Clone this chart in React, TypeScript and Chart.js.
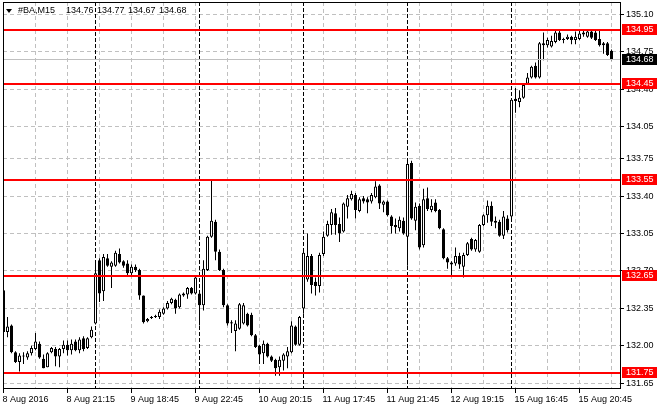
import React, { useEffect, useRef } from 'react';
import { Chart, registerables } from 'chart.js';

Chart.register(...registerables);

// ---- DATA (M15 bars of #BA) ----
const opens = [
  132.52, 132.13, 132.19, 131.94, 131.85, 131.90, 131.89, 131.93, 131.97, 132.02,
  131.88, 131.80, 131.94, 131.97, 131.90, 131.97, 132.01, 131.96, 132.04, 131.96,
  132.07, 131.98, 132.08, 132.21, 132.80, 132.51, 132.82, 132.74, 132.75, 132.86,
  132.79, 132.77, 132.68, 132.74, 132.71, 132.47, 132.23, 132.27, 132.28, 132.27,
  132.30, 132.35, 132.40, 132.43, 132.36, 132.47, 132.48, 132.54, 132.49, 132.49,
  132.38, 132.71, 133.02, 133.16, 132.88, 132.71, 132.38, 132.21, 132.14, 132.16,
  132.21, 132.30, 132.29, 132.10, 132.00, 131.93, 132.02, 131.90, 131.87, 131.80,
  131.86, 131.90, 131.94, 132.18, 132.01, 132.35, 132.62, 132.84, 132.60, 132.56,
  132.86, 133.03, 133.13, 133.24, 133.14, 133.07, 133.30, 133.37, 133.41, 133.26,
  133.38, 133.37, 133.35, 133.39, 133.50, 133.32, 133.35, 133.21, 133.13, 133.10,
  133.17, 133.02, 133.71, 133.17, 133.31, 132.94, 133.38, 133.27, 133.34, 133.27,
  133.09, 132.82, 132.78, 132.77, 132.84, 132.74, 132.85, 133.00, 132.90, 132.88,
  133.13, 133.22, 133.31, 133.17, 133.16, 133.03, 133.19, 133.21, 134.31, 134.28,
  134.32, 134.45, 134.51, 134.62, 134.51, 134.83, 134.81, 134.80, 134.84, 134.93,
  134.87, 134.87, 134.89, 134.86, 134.87, 134.93, 134.89, 134.94, 134.93, 134.87,
  134.81, 134.83, 134.76,
];
const highs = [
  132.55, 132.27, 132.20, 131.95, 131.93, 131.94, 131.95, 132.00, 132.12, 132.04,
  131.92, 131.94, 131.99, 131.99, 131.98, 132.05, 132.05, 132.06, 132.06, 132.08,
  132.09, 132.08, 132.18, 132.80, 132.82, 132.86, 132.86, 132.79, 132.89, 132.91,
  132.80, 132.80, 132.76, 132.76, 132.72, 132.47, 132.26, 132.28, 132.29, 132.34,
  132.36, 132.42, 132.45, 132.44, 132.49, 132.50, 132.55, 132.55, 132.66, 132.50,
  132.80, 133.03, 133.55, 133.18, 132.90, 132.72, 132.39, 132.24, 132.24, 132.40,
  132.40, 132.31, 132.31, 132.11, 132.01, 132.05, 132.03, 131.91, 131.88, 131.90,
  131.93, 131.99, 132.23, 132.19, 132.28, 132.89, 133.05, 132.86, 132.64, 132.87,
  133.07, 133.17, 133.28, 133.29, 133.20, 133.34, 133.41, 133.45, 133.43, 133.39,
  133.40, 133.39, 133.43, 133.54, 133.51, 133.36, 133.36, 133.22, 133.19, 133.21,
  133.20, 133.72, 133.73, 133.34, 133.33, 133.47, 133.48, 133.37, 133.37, 133.28,
  133.10, 132.83, 132.79, 132.92, 132.87, 132.87, 132.97, 133.01, 133.00, 133.14,
  133.23, 133.36, 133.35, 133.21, 133.18, 133.26, 133.22, 134.31, 134.41, 134.39,
  134.45, 134.55, 134.62, 134.65, 134.84, 134.93, 134.88, 134.90, 134.95, 134.95,
  134.88, 134.91, 134.90, 134.94, 134.95, 134.95, 134.95, 134.96, 134.95, 134.95,
  134.84, 134.84, 134.77,
];
const lows = [
  132.10, 132.08, 131.93, 131.84, 131.76, 131.83, 131.87, 131.91, 131.96, 131.88,
  131.79, 131.80, 131.93, 131.81, 131.80, 131.93, 131.91, 131.92, 131.95, 131.93,
  131.95, 131.97, 132.07, 132.20, 132.41, 132.42, 132.74, 132.54, 132.74, 132.77,
  132.73, 132.66, 132.66, 132.69, 132.43, 132.21, 132.22, 132.25, 132.26, 132.25,
  132.29, 132.34, 132.39, 132.30, 132.35, 132.46, 132.44, 132.48, 132.48, 132.19,
  132.33, 132.70, 133.01, 132.80, 132.70, 132.36, 132.19, 132.12, 131.95, 132.15,
  132.20, 132.18, 132.09, 131.98, 131.83, 131.83, 131.89, 131.85, 131.72, 131.72,
  131.77, 131.79, 131.93, 132.00, 132.00, 132.30, 132.60, 132.49, 132.47, 132.50,
  132.84, 133.02, 133.04, 133.04, 132.97, 133.06, 133.19, 133.36, 133.19, 133.25,
  133.33, 133.24, 133.33, 133.38, 133.28, 133.25, 133.21, 133.05, 133.05, 133.07,
  133.04, 132.75, 133.18, 133.08, 132.90, 132.92, 133.26, 133.25, 133.25, 133.09,
  132.81, 132.72, 132.66, 132.75, 132.72, 132.64, 132.84, 132.89, 132.88, 132.87,
  133.12, 133.15, 133.12, 133.10, 133.02, 133.00, 133.06, 133.19, 134.18, 134.23,
  134.31, 134.44, 134.50, 134.50, 134.50, 134.67, 134.79, 134.79, 134.83, 134.85,
  134.83, 134.86, 134.82, 134.82, 134.86, 134.89, 134.88, 134.87, 134.85, 134.80,
  134.73, 134.71, 134.67,
];
const closes = [
  132.13, 132.18, 131.94, 131.85, 131.91, 131.91, 131.93, 131.98, 132.04, 131.89,
  131.79, 131.93, 131.98, 131.90, 131.97, 132.01, 131.96, 132.02, 131.96, 132.06,
  131.97, 132.07, 132.15, 132.68, 132.49, 132.83, 132.75, 132.78, 132.87, 132.78,
  132.75, 132.68, 132.74, 132.71, 132.47, 132.22, 132.25, 132.26, 132.27, 132.32,
  132.35, 132.40, 132.44, 132.35, 132.48, 132.49, 132.54, 132.49, 132.64, 132.38,
  132.72, 133.02, 133.17, 132.88, 132.71, 132.38, 132.21, 132.22, 132.21, 132.39,
  132.38, 132.19, 132.10, 131.99, 131.92, 132.02, 131.90, 131.86, 131.79, 131.87,
  131.92, 131.95, 132.19, 132.01, 132.27, 132.87, 132.84, 132.57, 132.56, 132.85,
  133.02, 133.14, 133.25, 133.13, 133.05, 133.33, 133.38, 133.42, 133.27, 133.37,
  133.35, 133.34, 133.41, 133.49, 133.33, 133.35, 133.22, 133.12, 133.11, 133.18,
  133.05, 133.70, 133.19, 133.30, 132.92, 133.37, 133.28, 133.31, 133.26, 133.10,
  132.82, 132.78, 132.76, 132.84, 132.76, 132.85, 132.96, 132.90, 132.99, 133.13,
  133.22, 133.31, 133.16, 133.15, 133.03, 133.21, 133.08, 134.30, 134.29, 134.32,
  134.44, 134.51, 134.61, 134.51, 134.83, 134.81, 134.86, 134.85, 134.93, 134.86,
  134.86, 134.89, 134.86, 134.89, 134.92, 134.91, 134.94, 134.88, 134.86, 134.81,
  134.83, 134.72, 134.68,
];

const xTickLabels = [
  '8 Aug 2016', '8 Aug 21:15', '9 Aug 18:45', '9 Aug 22:45', '10 Aug 20:15',
  '11 Aug 17:45', '11 Aug 21:45', '12 Aug 19:15', '15 Aug 16:45', '15 Aug 20:45',
];
const xGridBars = [0, 8, 16, 24, 32, 40, 48, 56, 64, 72, 80, 88, 96, 104, 112, 120, 128, 136, 144, 152];
const yTickValues = [131.65, 132.0, 132.35, 132.7, 133.05, 133.4, 133.75, 134.05, 134.4, 134.75, 135.1];
const levelLines = [134.95, 134.45, 133.55, 132.65, 131.75];
const currentPrice = 134.68;
const separatorBars = [23, 49, 75, 101, 127];
const titleParts = ['#BA,M15', '134.76', '134.77', '134.67', '134.68'];

const FONT = '"Liberation Sans", Arial, sans-serif';

export default function App() {
  const ref = useRef<HTMLCanvasElement | null>(null);

  useEffect(() => {
    const canvas = ref.current;
    if (!canvas) return;
    const idx = opens.map((_, i) => i);

    const overlay = {
      id: 'mt4overlay',
      beforeDatasetsDraw(chart: any) {
        const { ctx, chartArea, scales } = chart;
        ctx.save();
        ctx.strokeStyle = '#000000';
        ctx.lineWidth = 1;
        ctx.setLineDash([4, 2]);
        for (const b of separatorBars) {
          const px = Math.floor(scales.x.getPixelForValue(b)) + 0.5;
          ctx.beginPath();
          ctx.moveTo(px, chartArea.top);
          ctx.lineTo(px, chartArea.bottom);
          ctx.stroke();
        }
        ctx.restore();
      },
      afterDatasetsDraw(chart: any) {
        const { ctx, chartArea, scales } = chart;
        const w = chartArea.right - chartArea.left;
        ctx.save();
        // current price line
        const cy = Math.floor(scales.y.getPixelForValue(currentPrice));
        ctx.fillStyle = '#c0c0c0';
        ctx.fillRect(chartArea.left, cy, w, 1);
        // horizontal levels
        ctx.fillStyle = '#ff0000';
        for (const v of levelLines) {
          const y = Math.round(scales.y.getPixelForValue(v));
          ctx.fillRect(chartArea.left, y - 1, w, 2);
        }
        ctx.restore();
      },
      afterDraw(chart: any) {
        const { ctx, chartArea, scales } = chart;
        ctx.save();
        // frame (top & left)
        ctx.fillStyle = '#000000';
        ctx.fillRect(chartArea.left, chartArea.top, chartArea.right - chartArea.left, 1);
        ctx.fillRect(chartArea.left, chartArea.top, 1, chartArea.bottom - chartArea.top);

        // price boxes on the axis
        ctx.font = `9px ${FONT}`;
        ctx.textBaseline = 'middle';
        ctx.textAlign = 'left';
        const bx = chartArea.right + 2;
        for (const v of levelLines) {
          const y = Math.round(scales.y.getPixelForValue(v));
          ctx.fillStyle = '#ff0000';
          ctx.fillRect(bx, y - 6, 35, 11);
          ctx.fillStyle = '#ffffff';
          ctx.fillText(v.toFixed(2), bx + 4, y - 0.5);
        }
        const cy = Math.floor(scales.y.getPixelForValue(currentPrice));
        ctx.fillStyle = '#000000';
        ctx.fillRect(bx, cy - 5, 35, 11);
        ctx.fillStyle = '#ffffff';
        ctx.fillText(currentPrice.toFixed(2), bx + 4, cy + 0.5);

        // title
        ctx.fillStyle = '#000000';
        ctx.beginPath();
        ctx.moveTo(6, 9);
        ctx.lineTo(12, 9);
        ctx.lineTo(9, 13);
        ctx.closePath();
        ctx.fill();
        const tx = [18, 66, 97, 128, 159];
        titleParts.forEach((t, i) => ctx.fillText(t, tx[i], 11));
        ctx.restore();
      },
    };

    const gridCommon = {
      color: '#c0c0c0',
      lineWidth: 1,
      offset: false,
      drawTicks: true,
      tickBorderDash: [],
      borderDash: [4, 3],
    };

    const chart = new Chart(canvas, {
      type: 'bar',
      data: {
        datasets: [
          {
            label: 'body',
            data: idx.map((i) => ({ x: i, y: [opens[i], closes[i]] })) as any,
            backgroundColor: idx.map((i) => (closes[i] >= opens[i] ? '#ffffff' : '#000000')),
            borderColor: '#000000',
            borderWidth: 1,
            borderSkipped: false,
            grouped: false,
            maxBarThickness: 3,
            barPercentage: 1,
            categoryPercentage: 1,
            inflateAmount: 0,
            minBarLength: 1,
            order: 1,
          } as any,
          {
            label: 'wick',
            data: idx.map((i) => ({ x: i, y: [lows[i], highs[i]] })) as any,
            backgroundColor: '#000000',
            borderWidth: 0,
            grouped: false,
            maxBarThickness: 1,
            barPercentage: 1,
            categoryPercentage: 1,
            inflateAmount: 0,
            order: 2,
          } as any,
        ],
      },
      options: {
        responsive: false,
        animation: false,
        devicePixelRatio: 1,
        layout: { padding: { left: 3, top: 2, right: 0, bottom: 0 } },
        plugins: {
          legend: { display: false },
          tooltip: { enabled: false },
          title: { display: false },
        },
        scales: {
          x: {
            type: 'linear',
            min: -0.125,
            max: 154.125,
            offset: false,
            afterBuildTicks: (s: any) => {
              s.ticks = xGridBars.map((v) => ({ value: v }));
            },
            afterFit: (s: any) => {
              s.height = 22;
              s.paddingLeft = 0;
              s.paddingRight = 0;
            },
            grid: {
              ...gridCommon,
              tickLength: 5,
              tickColor: (c: any) => (c.index % 2 === 0 ? '#000000' : 'rgba(0,0,0,0)'),
            },
            border: { display: true, color: '#000000', width: 1, dash: [4, 3] },
            ticks: {
              autoSkip: false,
              maxRotation: 0,
              minRotation: 0,
              align: 'start',
              padding: 1,
              labelOffset: -1,
              color: '#000000',
              font: { family: FONT, size: 9 },
              callback: (_v: any, i: number) => (i % 2 === 0 ? xTickLabels[i / 2] : ''),
            },
          } as any,
          y: {
            type: 'linear',
            position: 'right',
            min: 131.606,
            max: 135.215,
            beginAtZero: false,
            afterBuildTicks: (s: any) => {
              s.ticks = yTickValues.map((v) => ({ value: v }));
            },
            afterFit: (s: any) => {
              s.width = 40;
              s.paddingTop = 0;
              s.paddingBottom = 0;
            },
            grid: { ...gridCommon, tickLength: 4, tickColor: '#000000' },
            border: { display: true, color: '#000000', width: 1, dash: [4, 3] },
            ticks: {
              autoSkip: false,
              padding: 2,
              color: '#000000',
              font: { family: FONT, size: 9 },
              callback: (v: any) => Number(v).toFixed(2),
            },
          } as any,
        },
      },
      plugins: [overlay],
    });

    return () => chart.destroy();
  }, []);

  return (
    <div style={{ position: 'fixed', left: 0, top: 0, width: 660, height: 410, background: '#ffffff' }}>
      <canvas ref={ref} width={660} height={410} style={{ display: 'block' }} />
    </div>
  );
}
